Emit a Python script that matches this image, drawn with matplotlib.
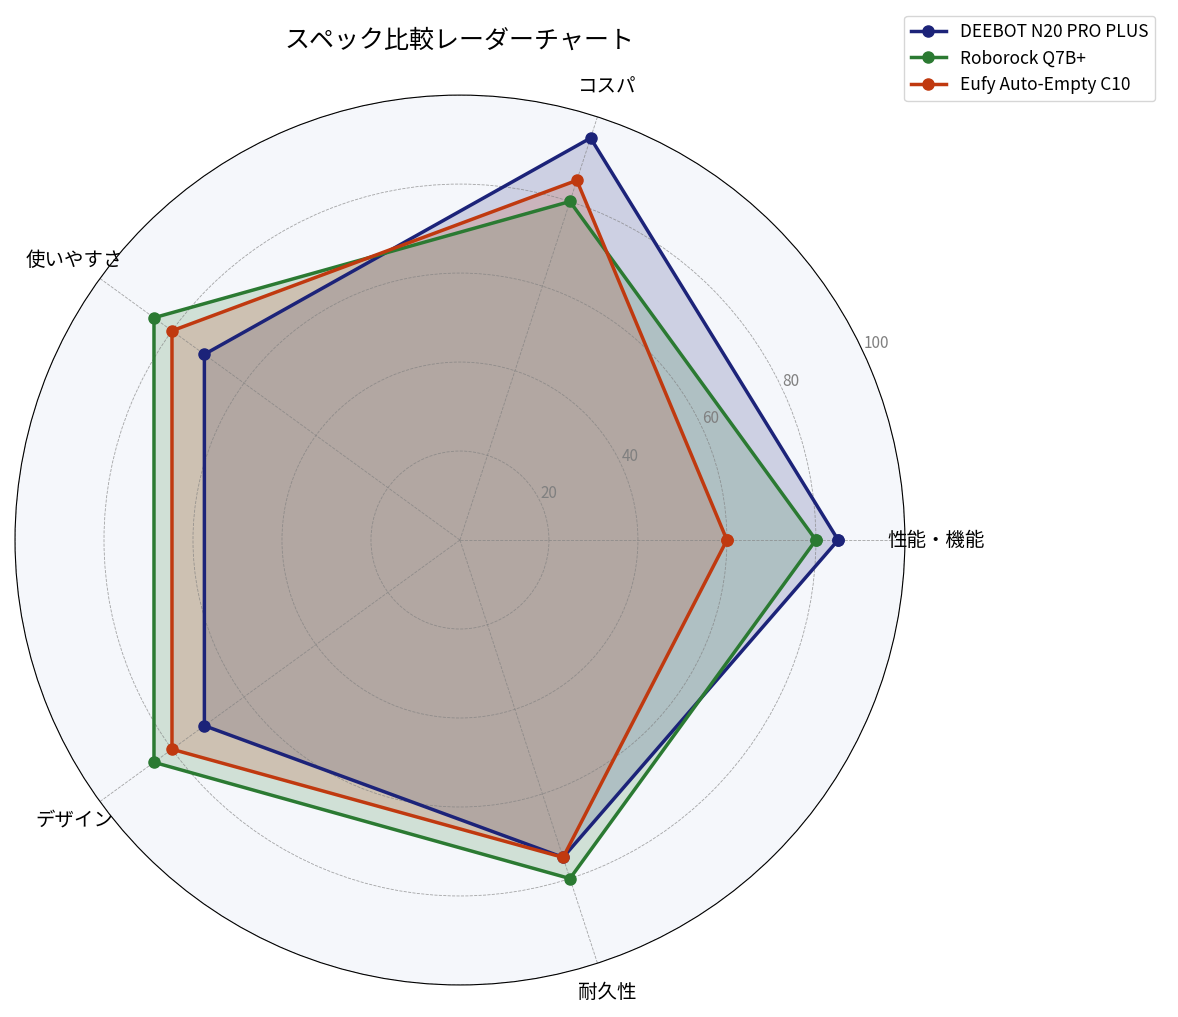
import numpy as np
import matplotlib
matplotlib.use("Agg")
import matplotlib.pyplot as plt

plt.rcParams['font.family'] = ['Noto Sans CJK JP', 'DejaVu Sans']

categories = ["性能・機能", "コスパ", "使いやすさ", "デザイン", "耐久性"]
series_names = ["DEEBOT N20 PRO PLUS", "Roborock Q7B+", "Eufy Auto-Empty C10"]
deebot = [85, 95, 71, 71, 75]
roborock = [80, 80, 85, 85, 80]
eufy = [60, 85, 80, 80, 75]
colors = ["#1c2379", "#2b7a32", "#c0390f"]

angles = np.linspace(0, 2 * np.pi, len(categories), endpoint=False)
ang_closed = np.concatenate([angles, angles[:1]])

fig = plt.figure(figsize=(11.78, 10.17), dpi=100)
ax = fig.add_axes([0.0127, 0.0315, 0.7555, 0.875], polar=True)
ax.set_facecolor("#f5f7fb")

for name, vals, c in zip(series_names, [deebot, roborock, eufy], colors):
    v = np.array(vals + vals[:1])
    ax.plot(ang_closed, v, color=c, lw=2.5, marker="o", ms=8, label=name)
    ax.fill(ang_closed, v, color=c, alpha=0.18)

ax.set_ylim(0, 100)
ax.set_yticks([20, 40, 60, 80, 100])
ax.set_yticklabels(["20", "40", "60", "80", "100"], color="gray", fontsize=11)
ax.set_rlabel_position(25)
ax.set_xticks(angles)
ax.set_xticklabels(categories, fontsize=14)
ax.tick_params(axis="x", pad=12)
ax.grid(color="gray", linestyle="--", linewidth=0.6, alpha=0.7)

fig.text(0.39, 0.96, "スペック比較レーダーチャート", ha="center", va="center", fontsize=18)
fig.legend(loc="upper right", bbox_to_anchor=(0.988, 0.993), fontsize=12.5)

fig.savefig("out.png", dpi=100)
